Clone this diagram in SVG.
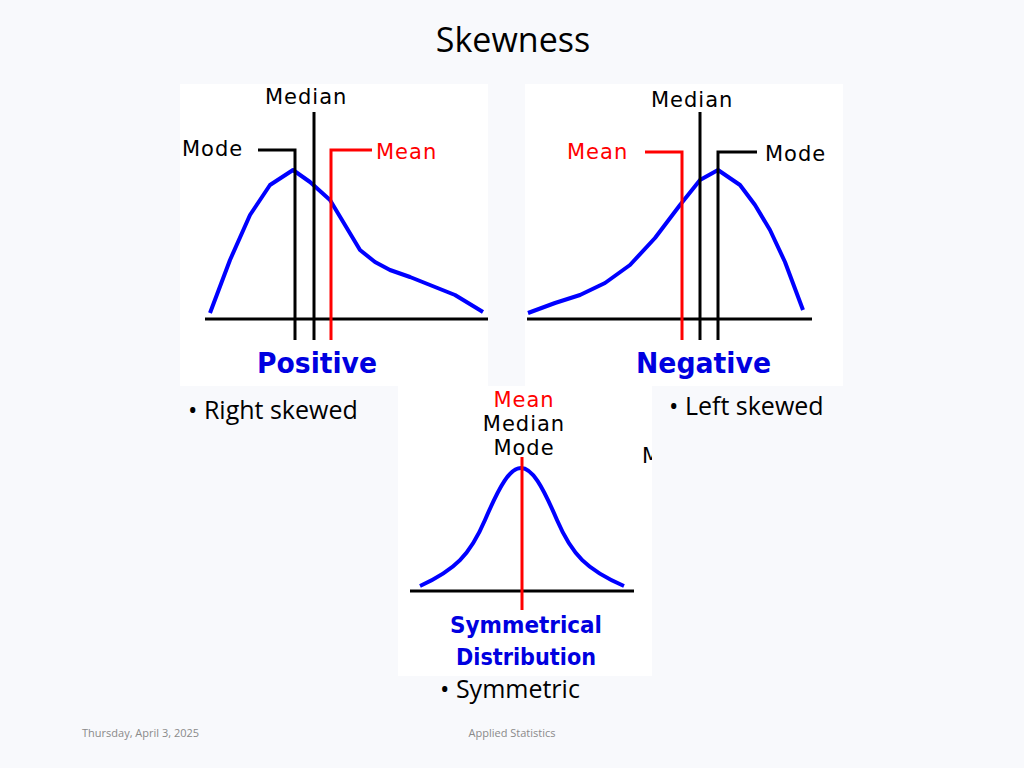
<svg xmlns="http://www.w3.org/2000/svg" width="1024" height="768" viewBox="0 0 1024 768">
<style>
.c{fill:none;stroke:#0000ff;stroke-width:4;stroke-linejoin:round}
.k{stroke:#000;stroke-width:3;fill:none}
.r{stroke:#ff0000;stroke-width:3;fill:none}
.lb{font-family:"DejaVu Sans",sans-serif;font-size:21px;letter-spacing:1px}
.big{font-family:"DejaVu Sans",sans-serif;font-weight:bold;fill:#0000e0}
.b{font-family:"Open Sans","Liberation Sans",sans-serif;font-size:25px;fill:#000}
</style>
<rect width="1024" height="768" fill="#f8f9fc"/>
<text x="513" y="52" text-anchor="middle" font-family="Open Sans, Liberation Sans, sans-serif" font-size="34">Skewness</text>
<g id="positive">
<rect x="180" y="84" width="308" height="302" fill="#fff"/>
<path class="c" d="M210,313 L230,260 L250,215 L270,185 L293,170 L310,182 L330,200 L345,225 L360,250 L375,262 L390,270 L410,277 L430,285 L455,295 L483,312"/>
<line class="k" x1="205" y1="319" x2="488" y2="319"/>
<path class="k" d="M258,150 H295 V340" stroke-width="2"/>
<line class="k" x1="314" y1="112" x2="314" y2="340"/>
<path class="r" d="M372,150 H331 V340"/>
<text class="lb" x="265" y="104">Median</text>
<text class="lb" x="182" y="156">Mode</text>
<text class="lb" x="376" y="159" fill="#ff0000">Mean</text>
<text class="big" x="257" y="373" font-size="29" textLength="120" lengthAdjust="spacingAndGlyphs">Positive</text>
</g>
<g id="negative">
<rect x="525" y="84" width="318" height="302" fill="#fff"/>
<path class="c" d="M528,313 L555,303 L580,295 L605,283 L630,265 L655,238 L680,205 L700,180 L718,170 L740,185 L755,205 L770,230 L785,262 L803,310"/>
<line class="k" x1="527" y1="319" x2="812" y2="319"/>
<path class="r" d="M645,152 H682 V340"/>
<line class="k" x1="700" y1="112" x2="700" y2="340"/>
<path class="k" d="M757,152 H718 V340" stroke-width="2"/>
<text class="lb" x="651" y="107">Median</text>
<text class="lb" x="567" y="159" fill="#ff0000">Mean</text>
<text class="lb" x="765" y="161">Mode</text>
<text class="big" x="636" y="373" font-size="29" textLength="135" lengthAdjust="spacingAndGlyphs">Negative</text>
</g>
<g id="symmetric">
<rect x="398" y="386" width="254" height="290" fill="#fff"/>
<path class="c" d="M420,586 C455,570 470,555 485,520 C500,485 510,468 521,468 C532,468 542,485 557,520 C572,555 587,570 624,586"/>
<line class="k" x1="410" y1="591" x2="634" y2="591" stroke-width="2"/>
<line class="r" x1="522" y1="457" x2="522" y2="610"/>
<text class="lb" x="524" y="407" text-anchor="middle" fill="#ff0000" font-size="18">Mean</text>
<text class="lb" x="524" y="431" text-anchor="middle" font-size="18">Median</text>
<text class="lb" x="524" y="455" text-anchor="middle" font-size="18">Mode</text>
<svg x="640" y="440" width="12" height="30"><text class="lb" x="2" y="23" font-size="18">M</text></svg>
<text class="big" x="526" y="633" text-anchor="middle" font-size="23" textLength="152" lengthAdjust="spacingAndGlyphs">Symmetrical</text>
<text class="big" x="526" y="665" text-anchor="middle" font-size="23" textLength="140" lengthAdjust="spacingAndGlyphs">Distribution</text>
</g>
<text class="b" x="188" y="419">• Right skewed</text>
<text class="b" x="669" y="415">• Left skewed</text>
<text class="b" x="440" y="698">• Symmetric</text>
<text x="82" y="737" font-family="Open Sans, Liberation Sans, sans-serif" font-size="11" fill="#8a8a8a">Thursday, April 3, 2025</text>
<text x="512" y="737" text-anchor="middle" font-family="Open Sans, Liberation Sans, sans-serif" font-size="11" fill="#8a8a8a">Applied Statistics</text>
</svg>
